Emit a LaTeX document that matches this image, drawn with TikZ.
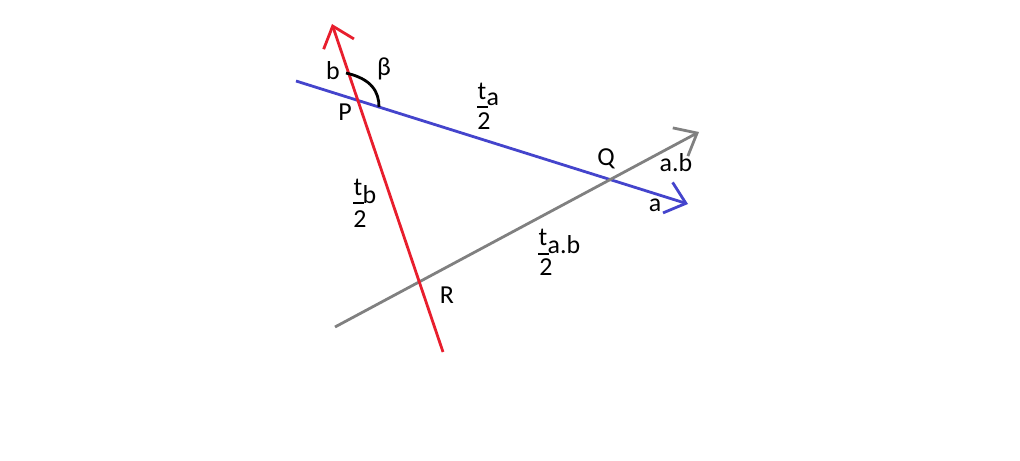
\documentclass[tikz,border=0pt]{standalone}
\usepackage{fontspec}
\setmainfont{Carlito}
\usetikzlibrary{arrows.meta}
\definecolor{myred}{RGB}{232,30,45}
\definecolor{myblue}{RGB}{68,68,204}
\definecolor{mygray}{RGB}{128,128,128}
\tikzset{
  ray/.style={line width=2.8bp, -{Straight Barb[length=19bp,width=32bp,line width=2.8bp]}},
  lbl/.style={inner sep=0pt, font=\fontsize{26}{30}\selectfont},
  fbar/.style={line width=1.4bp, black},
}
\begin{document}
\begin{tikzpicture}[x=1bp,y=-1bp]
\useasboundingbox (0,0) rectangle (1020,461);
% points
\coordinate (rS) at (443,352);
\coordinate (rE) at (332,24);
\coordinate (bS) at (296,81);
\coordinate (bE) at (688,204);
\coordinate (gS) at (335,327);
\coordinate (gE) at (699,132);
\draw[ray, myblue] (bS) -- (bE);
\draw[ray, mygray] (gS) -- (gE);
\draw[ray, myred] (rS) -- (rE);
% angle mark
\coordinate (arcA) at (346,73);
\coordinate (arcB) at (379,107);
\draw[line width=2.8bp, black] (arcA) .. controls (372,79) and (379,92) .. (arcB);
% labels
\node[lbl] (lb) at (333,71) {b};
\node[lbl] (lbeta) at (384,69) {β};
\node[lbl] (lP) at (345,112) {P};
\node[lbl] (lQ) at (606,159) {Q};
\node[lbl] (lR) at (447,295) {R};
\node[lbl] (lab) at (676,163) {a.b};
\node[lbl] (la) at (655,205) {a};
% t_a / 2
\node[lbl] (ta) at (482,91) {t};
\node[lbl, anchor=west] (tas) at (ta.east) [yshift=-8bp] {a};
\draw[fbar] (477,107) -- (488,107);
\node[lbl] (ta2) at (484,121) {2};
% t_b / 2
\node[lbl] (tb) at (358,187) {t};
\node[lbl, anchor=west] (tbs) at (tb.east) [yshift=-8bp] {b};
\draw[fbar] (353,203) -- (364,203);
\node[lbl] (tb2) at (360,219) {2};
% t_a.b / 2
\node[lbl] (tab) at (543,237) {t};
\node[lbl, anchor=west] (tabs) at (tab.east) [yshift=-8bp] {a.b};
\draw[fbar] (538,254) -- (549,254);
\node[lbl] (tab2) at (546,267) {2};
\end{tikzpicture}
\end{document}
